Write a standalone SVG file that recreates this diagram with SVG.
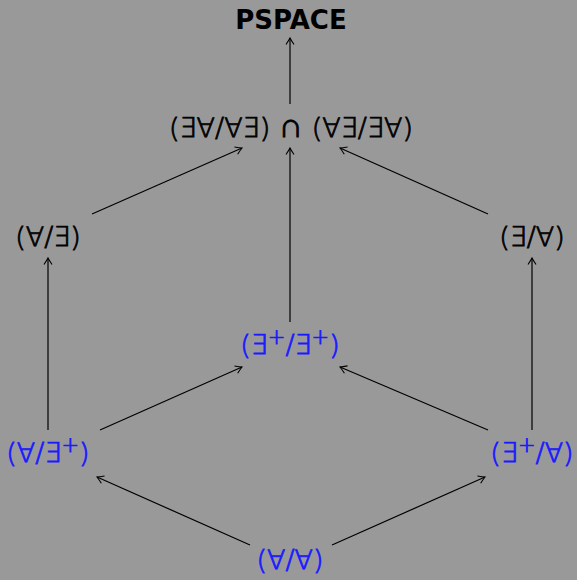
<svg xmlns="http://www.w3.org/2000/svg" width="577" height="580" viewBox="0 0 577 580">
<style>
.t{font-family:"DejaVu Sans","Liberation Sans",sans-serif;font-size:27px;font-weight:200;text-anchor:middle;fill:#000;stroke:#000;stroke-width:0.8}
.b{fill:#1a1aff;stroke:#1a1aff}
.sup{font-size:21px}
.cap{font-size:34px}
.e{stroke:#000;stroke-width:1.2;fill:none;marker-end:url(#ah)}
</style>
<defs>
<marker id="ah" viewBox="-8 -5 10 10" refX="0" refY="0" markerWidth="10" markerHeight="10" markerUnits="userSpaceOnUse" orient="auto">
<path d="M-6.5,-4 Q-2,-1 0,0 Q-2,1 -6.5,4" fill="none" stroke="#000" stroke-width="1.1"/>
</marker>
</defs>
<rect width="577" height="580" fill="#999"/>
<g id="connectors">
<line class="e" x1="290" y1="104" x2="290" y2="38"/>
<line class="e" x1="92" y1="214" x2="242" y2="148"/>
<line class="e" x1="488" y1="214" x2="340" y2="148"/>
<line class="e" x1="290" y1="322" x2="290" y2="148"/>
<line class="e" x1="48" y1="430" x2="48" y2="258"/>
<line class="e" x1="532" y1="430" x2="532" y2="258"/>
<line class="e" x1="100" y1="430" x2="242" y2="367"/>
<line class="e" x1="488" y1="430" x2="340" y2="367"/>
<line class="e" x1="250" y1="545" x2="97" y2="477"/>
<line class="e" x1="332" y1="545" x2="485" y2="477"/>
</g>
<g id="pspace"><text class="t" x="291" y="29" style="font-weight:bold;font-size:26px;stroke:none">PSPACE</text></g>
<g id="inter"><text class="t" x="291" y="137">(∃∀/∀∃) <tspan class="cap">∩</tspan> (∀∃/∃∀)</text></g>
<g id="fa-ex"><text class="t" x="48" y="246">(∀/∃)</text></g>
<g id="ex-fa"><text class="t" x="532" y="246">(∃/∀)</text></g>
<g id="exp-exp"><text class="t b" x="290" y="354">(∃<tspan class="sup" dy="-10">+</tspan><tspan dy="10">/∃</tspan><tspan class="sup" dy="-10">+</tspan><tspan dy="10">)</tspan></text></g>
<g id="fa-exp"><text class="t b" x="48" y="462">(∀/∃<tspan class="sup" dy="-10">+</tspan><tspan dy="10">)</tspan></text></g>
<g id="exp-fa"><text class="t b" x="532" y="462">(∃<tspan class="sup" dy="-10">+</tspan><tspan dy="10">/∀)</tspan></text></g>
<g id="fa-fa"><text class="t b" x="290" y="569">(∀/∀)</text></g>
</svg>
